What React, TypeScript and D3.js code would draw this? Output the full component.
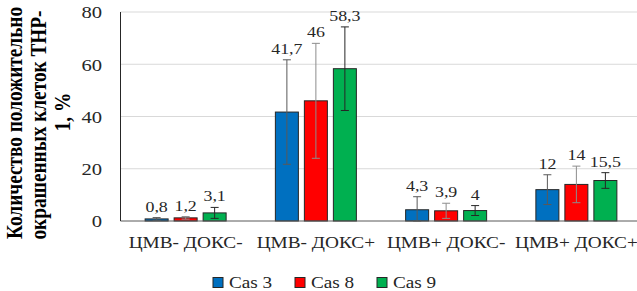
import React, { useEffect, useRef } from "react";
import * as d3 from "d3";

const groups = ["ЦМВ- ДОКС-", "ЦМВ- ДОКС+", "ЦМВ+ ДОКС-", "ЦМВ+ ДОКС+"];
const seriesNames = ["Cas 3", "Cas 8", "Cas 9"];
const cas3 = [0.8, 41.7, 4.3, 12];
const cas8 = [1.2, 46, 3.9, 14];
const cas9 = [3.1, 58.3, 4, 15.5];
const cas3Err = [0.5, 20, 5, 5.7];
const cas8Err = [0.5, 22, 2.9, 7];
const cas9Err = [2.1, 16, 1.9, 3];
const yTicks = [0, 20, 40, 60, 80];
const titleLines = ["Количество положительно", "окрашенных клеток THP-", "1, %"];

const colors = ["#0070C0", "#FF0000", "#00B050"];
const errColors = ["#595959", "#8c8c8c", "#262626"];

const FONT = "Liberation Serif";

export default function App() {
  const ref = useRef<SVGSVGElement>(null);
  const W = 637, H = 291;

  useEffect(() => {
    const svg = d3.select(ref.current);
    svg.selectAll("*").remove();
    const left = 120.5, right = 641.5, top = 12, bottom = 221;
    const y = d3.scaleLinear().domain([0, 80]).range([bottom, top]);
    const x0 = d3.scaleBand().domain(groups).range([left, right]);
    const x1 = d3.scaleBand().domain(seriesNames).range([-40.5, 40.5]).paddingInner(6 / 29).paddingOuter(0);
    const values = [cas3, cas8, cas9];
    const errs = [cas3Err, cas8Err, cas9Err];
    const fmt = (v: number) => String(v).replace(".", ",");
    const txt = (sel: any) => sel.attr("font-family", FONT).style("font-family", `'${FONT}', serif`);
    const place = (x: number, yy: number, sx: number) => `translate(${x},${yy}) scale(${sx},1)`;

    svg.append("rect").attr("width", W).attr("height", H).attr("fill", "#fff");

    yTicks.forEach((t) => {
      if (t > 0) svg.append("line").attr("x1", left).attr("x2", W).attr("y1", y(t)).attr("y2", y(t)).attr("stroke", "#d9d9d9");
      svg.append("text").call(txt).attr("transform", place(102, y(t), 1.25)).attr("dy", "0.38em").attr("text-anchor", "end")
        .attr("font-size", 16.5).attr("fill", "#262626").text(t);
    });

    groups.forEach((g, gi) => {
      const cx = x0(g)! + x0.bandwidth() / 2;
      seriesNames.forEach((s, si) => {
        const v = values[si][gi];
        const e = errs[si][gi];
        const bx = cx + x1(s)!;
        const bw = x1.bandwidth();
        const mx = bx + bw / 2;
        const hi = y(v + e);
        const lo = y(Math.max(0, v - e));
        svg.append("rect").attr("x", bx).attr("y", y(v)).attr("width", bw).attr("height", y(0) - y(v))
          .attr("fill", colors[si]).attr("stroke", "#262626");
        svg.append("line").attr("x1", mx).attr("x2", mx).attr("y1", hi).attr("y2", lo).attr("stroke", errColors[si]);
        svg.append("line").attr("x1", mx - 4).attr("x2", mx + 4).attr("y1", hi).attr("y2", hi).attr("stroke", errColors[si]);
        svg.append("line").attr("x1", mx - 4).attr("x2", mx + 4).attr("y1", lo).attr("y2", lo).attr("stroke", errColors[si]);
        svg.append("text").call(txt).attr("transform", place(mx, hi - 6, 1.28)).attr("text-anchor", "middle")
          .attr("font-size", 14).attr("fill", "#262626").text(fmt(v));
      });
      svg.append("text").call(txt).attr("transform", place(cx, 248, 1.17)).attr("text-anchor", "middle")
        .attr("font-size", 16.5).attr("fill", "#262626").text(g);
    });

    svg.append("line").attr("x1", left).attr("x2", W).attr("y1", bottom).attr("y2", bottom).attr("stroke", "#595959");
    svg.append("line").attr("x1", left).attr("x2", left).attr("y1", top).attr("y2", bottom).attr("stroke", "#262626");

    const titleCy = [123, 125, 112];
    titleLines.forEach((l, i) => {
      svg.append("text").call(txt).attr("transform", `translate(${22 + i * 24},${titleCy[i]}) scale(1.15,1) rotate(-90)`)
        .attr("text-anchor", "middle").attr("font-size", 19.3).attr("font-weight", "bold").attr("fill", "#000").text(l);
    });

    seriesNames.forEach((s, i) => {
      const lx = [213, 295, 377][i];
      svg.append("rect").attr("x", lx).attr("y", 277.5).attr("width", 10).attr("height", 10)
        .attr("fill", colors[i]).attr("stroke", "#262626");
      svg.append("text").call(txt).attr("transform", place(lx + 16, 287.5, 1.15)).attr("font-size", 16.7).attr("fill", "#262626").text(s);
    });
  }, []);

  return (
    <svg ref={ref} width={W} height={H} style={{ position: "absolute", left: 0, top: 0 }} />
  );
}
